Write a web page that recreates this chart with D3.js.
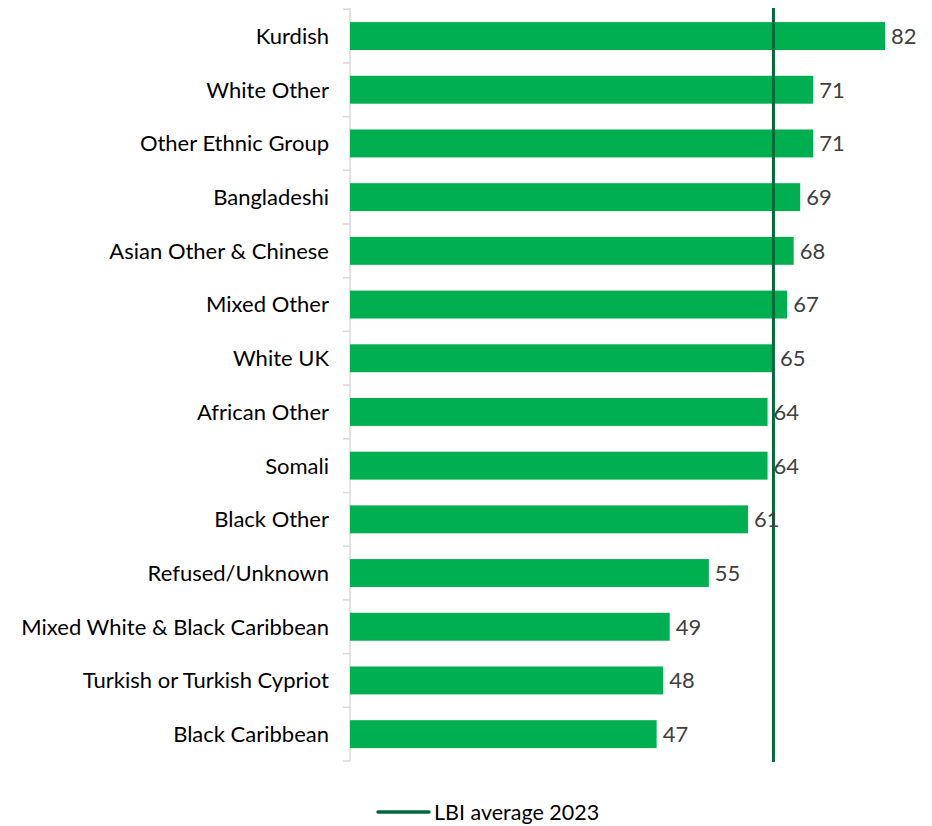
<!DOCTYPE html>
<html><head><meta charset="utf-8">
<script src="https://cdn.jsdelivr.net/npm/d3@7"></script>
<style>body{margin:0;background:#fff}svg{display:block}text{font-family:Lato,"Open Sans",sans-serif}</style>
</head><body><div id="chart"></div>
<script>
const categories = ["Kurdish","White Other","Other Ethnic Group","Bangladeshi","Asian Other & Chinese","Mixed Other","White UK","African Other","Somali","Black Other","Refused/Unknown","Mixed White & Black Caribbean","Turkish or Turkish Cypriot","Black Caribbean"];
const values = [82,71,71,69,68,67,65,64,64,61,55,49,48,47];
const averageValue = 64.9;
const legendLabel = "LBI average 2023";

const W = 932, H = 826;
const yTop = 9.2, yBottom = 761;
const svg = d3.select("#chart").append("svg").attr("width", W).attr("height", H);
const x = d3.scaleLinear().domain([0, 82]).range([350, 885]);
const y = d3.scaleBand().domain(categories).range([yTop, yBottom]).paddingInner(0.48).paddingOuter(0.24);

// axis
const axis = d3.axisLeft(y).tickSize(0).tickPadding(21);
const g = svg.append("g").attr("transform", "translate(350,0)").call(axis);
g.select(".domain").remove();
g.selectAll("text").attr("font-size", 22).attr("fill", "#000").attr("dy", "0.36em").style("font-family", "Lato,'Open Sans',sans-serif");
// axis line & boundary ticks
svg.append("line").attr("x1", 350).attr("x2", 350).attr("y1", 8).attr("y2", 761).attr("stroke", "#d9d9d9").attr("stroke-width", 1.5);
const bounds = d3.range(categories.length + 1).map(i => yTop + i * ((yBottom - yTop) / categories.length));
svg.selectAll(".tk").data(bounds).join("line").attr("x1", 343).attr("x2", 350)
  .attr("y1", d => d).attr("y2", d => d).attr("stroke", "#d9d9d9").attr("stroke-width", 1.5);

// bars
svg.selectAll(".bar").data(values).join("rect")
  .attr("x", x(0)).attr("y", (d, i) => y(categories[i]))
  .attr("width", d => x(d) - x(0)).attr("height", y.bandwidth())
  .attr("fill", "#00B050");

// average line
svg.append("line").attr("x1", x(averageValue)).attr("x2", x(averageValue))
  .attr("y1", 8).attr("y2", 762).attr("stroke", "#00693A").attr("stroke-width", 3);

// labels
svg.selectAll(".lbl").data(values).join("text")
  .attr("x", d => x(d) + 6).attr("y", (d, i) => y(categories[i]) + y.bandwidth() / 2)
  .attr("dy", "0.36em").attr("font-size", 22).attr("fill", "#404040").text(d => d);

// legend
svg.append("line").attr("x1", 378).attr("x2", 429).attr("y1", 812).attr("y2", 812)
  .attr("stroke", "#00693A").attr("stroke-width", 3.5).attr("stroke-linecap", "round");
svg.append("text").attr("x", 434).attr("y", 812).attr("dy", "0.36em").attr("font-size", 21.5)
  .attr("fill", "#000").text(legendLabel);
</script></body></html>
